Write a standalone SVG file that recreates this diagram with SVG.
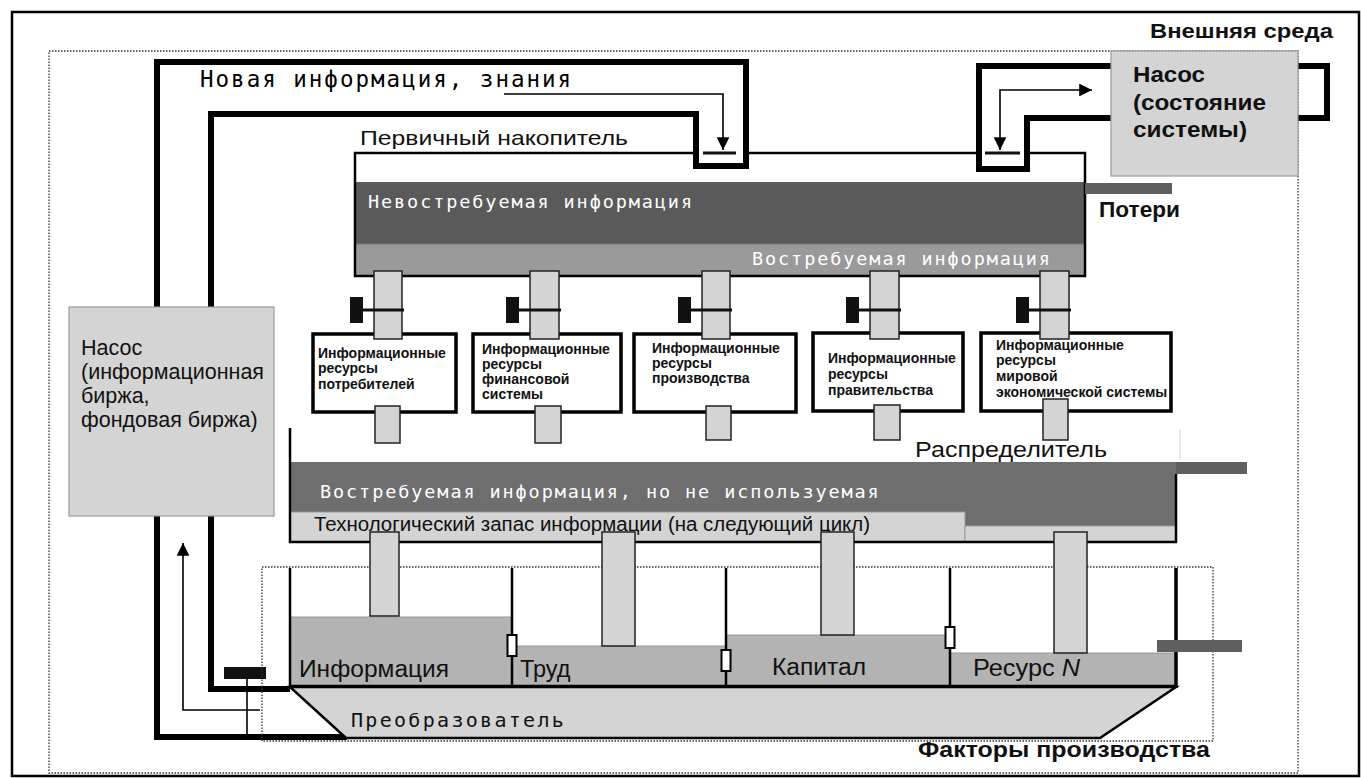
<svg xmlns="http://www.w3.org/2000/svg" width="1361" height="778" viewBox="0 0 1361 778">
<defs>
<style>
.sans{font-family:"Liberation Sans",Arial,sans-serif}
.mono{font-family:"DejaVu Sans Mono",monospace}
.b{font-weight:bold}
.dot{fill:none;stroke:#333;stroke-width:1.3;stroke-dasharray:1.5 1.5}
.pipe{fill:none;stroke:#000;stroke-width:6;stroke-linejoin:miter}
.thin{fill:none;stroke:#000;stroke-width:1.6}
.col{fill:#d4d4d4;stroke:#222;stroke-width:1.5}
.box{fill:#fff;stroke:#000;stroke-width:3.5}
.pump{fill:#d4d4d4;stroke:#9a9a9a;stroke-width:1.2}
.wall{stroke:#000;stroke-width:2.5;fill:none}
.tank{fill:#b3b3b3;stroke:#9a9a9a;stroke-width:1}
.loss{fill:#5f5f5f}
.vbar{fill:#111}
.vline{stroke:#111;stroke-width:3}
.lbl{font-size:14px;font-weight:bold;fill:#111}
</style>
<marker id="ah" viewBox="0 0 10 10" refX="10" refY="5" markerWidth="8" markerHeight="8" markerUnits="strokeWidth" orient="auto-start-reverse">
<path d="M0,0 L10,5 L0,10 z" fill="#000"/>
</marker>
</defs>
<rect x="12" y="12" width="1347" height="764" fill="#fff" stroke="#000" stroke-width="2.5"/>
<rect class="dot" x="49" y="51" width="1249" height="722"/>
<text class="sans b" x="1150" y="38" font-size="20" textLength="183" lengthAdjust="spacingAndGlyphs" fill="#111">Внешняя среда</text>

<g id="connectors">
<path class="pipe" d="M347 737 H157 V62 H746 V166 H696 V114 H211 V689 H290"/>
<path class="pipe" d="M1111 66 H979 V169 H1027 V118 H1111"/>
<path class="pipe" d="M1298 66 H1327 V118 H1298"/>
<polyline class="thin" points="504,94 723,94 723,150" marker-end="url(#ah)"/>
<polyline class="thin" points="1000,150 1000,90 1092,90" marker-start="url(#ah)" marker-end="url(#ah)"/>
<polyline class="thin" points="260,710 183,710 183,543" marker-end="url(#ah)"/>
<line class="thin" x1="247" y1="679" x2="247" y2="737"/>
<rect class="vbar" x="224" y="667" width="42" height="12"/>
</g>

<g id="new-info">
<text class="mono" x="200" y="87" font-size="22.5" letter-spacing="2">Новая информация, знания</text>
</g>

<g id="pump-left">
<rect class="pump" x="69" y="307" width="205" height="209"/>
<text class="sans" font-size="21.5" fill="#111">
<tspan x="81" y="355">Насос</tspan>
<tspan x="81" y="379">(информационная</tspan>
<tspan x="81" y="403">биржа,</tspan>
<tspan x="81" y="427">фондовая биржа)</tspan>
</text>
</g>

<g id="pump-right">
<rect class="pump" x="1111" y="51" width="187" height="125"/>
<text class="sans b" x="1133" y="82" font-size="22" textLength="72" lengthAdjust="spacingAndGlyphs" fill="#111">Насос</text>
<text class="sans b" x="1133" y="110" font-size="22" textLength="133" lengthAdjust="spacingAndGlyphs" fill="#111">(состояние</text>
<text class="sans b" x="1133" y="137" font-size="22" textLength="114" lengthAdjust="spacingAndGlyphs" fill="#111">системы)</text>
</g>

<g id="primary-accumulator">
<text class="sans" x="360" y="145" font-size="21" textLength="268" lengthAdjust="spacingAndGlyphs" fill="#111">Первичный накопитель</text>
<rect x="355" y="182" width="730" height="62" fill="#5a5a5a"/>
<rect x="355" y="244" width="730" height="32" fill="#9a9a9a"/>
<line x1="355" y1="244" x2="1085" y2="244" stroke="#777" stroke-width="1"/>
<path d="M696 153 H355 V276 H1085 V153 H1027 M979 153 H746" fill="none" stroke="#000" stroke-width="2.5"/>
<line class="vline" x1="703" y1="153" x2="736" y2="153"/>
<line class="vline" x1="985" y1="153" x2="1020" y2="153"/>
<text class="mono" x="368" y="208" font-size="18.5" letter-spacing="1.9" fill="#fff">Невостребуемая информация</text>
<text class="mono" x="752" y="265" font-size="18.5" letter-spacing="1.9" fill="#fff">Востребуемая информация</text>
<rect class="loss" x="1085" y="183" width="87" height="11"/>
<text class="sans b" x="1099" y="217" font-size="22" textLength="81" lengthAdjust="spacingAndGlyphs" fill="#111">Потери</text>
</g>

<g id="res-consumers">
<rect class="box" x="313" y="334" width="143" height="78"/>
<rect class="col" x="374" y="271" width="28" height="68"/>
<rect class="col" x="375" y="406" width="25" height="37"/>
<rect class="vbar" x="350" y="297" width="13" height="26"/>
<line class="vline" x1="363" y1="310" x2="404" y2="310"/>
<text class="sans lbl"><tspan x="318" y="358">Информационные</tspan><tspan x="318" y="373">ресурсы</tspan><tspan x="318" y="389">потребителей</tspan></text>
</g>
<g id="res-finance">
<rect class="box" x="473" y="334" width="148" height="78"/>
<rect class="col" x="530" y="271" width="29" height="68"/>
<rect class="col" x="535" y="406" width="26" height="37"/>
<rect class="vbar" x="506" y="297" width="13" height="26"/>
<line class="vline" x1="519" y1="310" x2="561" y2="310"/>
<text class="sans lbl"><tspan x="482" y="354">Информационные</tspan><tspan x="482" y="369">ресурсы</tspan><tspan x="482" y="384">финансовой</tspan><tspan x="482" y="399">системы</tspan></text>
</g>
<g id="res-production">
<rect class="box" x="634" y="334" width="162" height="78"/>
<rect class="col" x="702" y="271" width="28" height="68"/>
<rect class="col" x="706" y="406" width="25" height="34"/>
<rect class="vbar" x="678" y="297" width="13" height="26"/>
<line class="vline" x1="691" y1="310" x2="732" y2="310"/>
<text class="sans lbl"><tspan x="652" y="353">Информационные</tspan><tspan x="652" y="368">ресурсы</tspan><tspan x="652" y="383">производства</tspan></text>
</g>
<g id="res-government">
<rect class="box" x="813" y="333" width="150" height="78"/>
<rect class="col" x="870" y="271" width="29" height="68"/>
<rect class="col" x="874" y="405" width="26" height="35"/>
<rect class="vbar" x="846" y="297" width="13" height="26"/>
<line class="vline" x1="859" y1="310" x2="901" y2="310"/>
<text class="sans lbl"><tspan x="828" y="363">Информационные</tspan><tspan x="828" y="379">ресурсы</tspan><tspan x="828" y="395">правительства</tspan></text>
</g>
<g id="res-world">
<rect class="box" x="981" y="333" width="190" height="78"/>
<rect class="col" x="1040" y="271" width="29" height="68"/>
<rect class="col" x="1043" y="399" width="25" height="41"/>
<rect class="vbar" x="1016" y="297" width="13" height="26"/>
<line class="vline" x1="1029" y1="310" x2="1071" y2="310"/>
<text class="sans lbl"><tspan x="996" y="350">Информационные</tspan><tspan x="996" y="365">ресурсы</tspan><tspan x="996" y="381">мировой</tspan><tspan x="996" y="397">экономической системы</tspan></text>
</g>

<g id="distributor">
<text class="sans" x="915" y="457" font-size="22.5" textLength="192" lengthAdjust="spacingAndGlyphs" fill="#111">Распределитель</text>
<line x1="1180" y1="430" x2="1180" y2="460" stroke="#e2e2e2" stroke-width="1.5"/>
<rect x="290" y="462" width="886" height="64" fill="#6e6e6e"/>
<rect x="290" y="512" width="675" height="30" fill="#d4d4d4" stroke="#999" stroke-width="1"/>
<rect x="965" y="526" width="211" height="16" fill="#d4d4d4" stroke="#999" stroke-width="1"/>
<path d="M290 428 V542 H1176 V474" class="wall"/>
<rect class="loss" x="1176" y="462" width="71" height="12"/>
<text class="mono" x="320" y="498" font-size="18.5" letter-spacing="1.9" fill="#fff">Востребуемая информация, но не используемая</text>
<text class="sans" x="314" y="531" font-size="19.5" textLength="556" lengthAdjust="spacingAndGlyphs" fill="#111">Технологический запас информации (на следующий цикл)</text>
</g>

<g id="converter">
<polygon points="290,687 1176,687 1100,738 346,738" fill="#d4d4d4" stroke="#000" stroke-width="2.5"/>
<text class="mono" x="351" y="727" font-size="20" letter-spacing="2.3" fill="#111">Преобразователь</text>
</g>

<g id="factors">
<rect class="dot" x="262" y="567" width="951" height="174"/>
<rect class="tank" x="290" y="617" width="222" height="69"/>
<rect class="tank" x="512" y="646" width="214" height="40"/>
<rect class="tank" x="726" y="635" width="224" height="51"/>
<rect class="tank" x="950" y="653" width="226" height="33"/>
<rect class="col" x="370" y="532" width="29" height="84"/>
<rect class="col" x="602" y="532" width="33" height="114"/>
<rect class="col" x="821" y="532" width="33" height="103"/>
<rect class="col" x="1054" y="532" width="33" height="121"/>
<path class="wall" d="M290 568 V686 H1176 M512 568 V686 M726 568 V686 M950 568 V686"/>
<line x1="1176" y1="568" x2="1176" y2="688" stroke="#000" stroke-width="3.5"/>
<rect x="507.5" y="635" width="9" height="21" fill="#fff" stroke="#000" stroke-width="2"/>
<rect x="721.5" y="650" width="9" height="21" fill="#fff" stroke="#000" stroke-width="2"/>
<rect x="945.5" y="627" width="9" height="21" fill="#fff" stroke="#000" stroke-width="2"/>
<rect class="loss" x="1157" y="640" width="85" height="12"/>
<text class="sans" x="299" y="677" font-size="23.5" textLength="150" lengthAdjust="spacingAndGlyphs" fill="#111">Информация</text>
<text class="sans" x="520" y="677" font-size="23.5" fill="#111">Труд</text>
<text class="sans" x="772" y="675" font-size="23.5" textLength="94" lengthAdjust="spacingAndGlyphs" fill="#111">Капитал</text>
<text class="sans" x="973" y="676" font-size="23.5" textLength="107" lengthAdjust="spacingAndGlyphs" fill="#111">Ресурс <tspan font-style="italic">N</tspan></text>
<text class="sans b" x="918" y="757" font-size="22" textLength="292" lengthAdjust="spacingAndGlyphs" fill="#111">Факторы производства</text>
</g>
</svg>
